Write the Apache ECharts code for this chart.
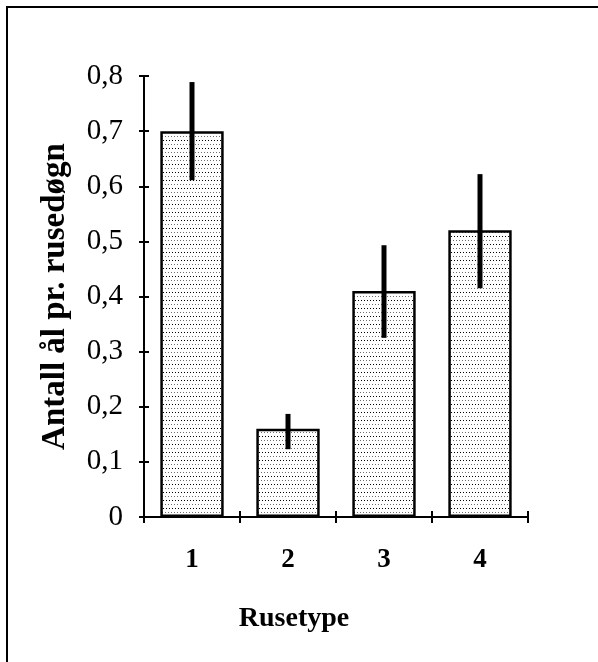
<!DOCTYPE html>
<html>
<head>
<meta charset="utf-8">
<script src="https://cdn.jsdelivr.net/npm/echarts@6/dist/echarts.min.js"></script>
<style>
  html, body { margin: 0; padding: 0; background: #fff; }
  #chart { width: 598px; height: 662px; }
</style>
</head>
<body>
<div id="chart"></div>
<script>
// Mean number of eels per trap-day for each trap type, with error bars
const categories = ['1', '2', '3', '4'];
const means = [0.70, 0.16, 0.41, 0.52];
const errLow = [0.611, 0.123, 0.325, 0.415];
const errHigh = [0.789, 0.187, 0.493, 0.622];
const yTicks = [0, 0.1, 0.2, 0.3, 0.4, 0.5, 0.6, 0.7, 0.8];

const FONT = '"Liberation Serif", "Times New Roman", serif';

// Dotted fill, like a classic stipple pattern
function stipple() {
  const c = document.createElement('canvas');
  c.width = 3; c.height = 8;
  const g = c.getContext('2d');
  g.fillStyle = '#ffffff';
  g.fillRect(0, 0, 3, 8);
  g.fillStyle = '#6e6e6e';
  g.fillRect(0, 0, 1, 1);
  g.fillStyle = '#000000';
  g.fillRect(1, 4, 1, 1);
  return c;
}

const chart = echarts.init(document.getElementById('chart'), null, { renderer: 'canvas' });

const errData = categories.map((c, i) => [i, errLow[i], errHigh[i]]);

const fmt = v => (v === 0 ? '0' : v.toFixed(1).replace('.', ','));

const option = {
  animation: false,
  backgroundColor: '#ffffff',
  grid: { left: 144, right: 70, top: 76, bottom: 145, containLabel: false },
  graphic: [{
    type: 'rect',
    shape: { x: 7, y: 7, width: 700, height: 700 },
    style: { fill: 'none', stroke: '#000', lineWidth: 2 },
    silent: true
  }],
  xAxis: [{
    type: 'category',
    data: categories,
    boundaryGap: true,
    axisLine: { lineStyle: { color: '#000', width: 2 } },
    axisTick: { show: true, length: 6, lineStyle: { color: '#000', width: 2 } },
    axisLabel: { color: '#000', fontFamily: FONT, fontSize: 27, fontWeight: 'bold', margin: 30 },
    name: 'Rusetype',
    nameLocation: 'middle',
    nameGap: 88,
    nameTextStyle: { color: '#000', fontFamily: FONT, fontSize: 28, fontWeight: 'bold', padding: [0, 84, 0, 0] }
  }, {
    type: 'category',
    data: categories,
    position: 'bottom',
    boundaryGap: true,
    axisLine: { show: false },
    axisTick: { show: true, inside: true, length: 6, lineStyle: { color: '#000', width: 2 } },
    axisLabel: { show: false }
  }],
  yAxis: [{
    type: 'value',
    min: 0,
    max: 0.8,
    interval: 0.1,
    splitLine: { show: false },
    axisLine: { show: true, lineStyle: { color: '#000', width: 2 } },
    axisTick: { show: true, length: 5, lineStyle: { color: '#000', width: 2 } },
    axisLabel: { color: '#000', fontFamily: FONT, fontSize: 29, margin: 21, formatter: fmt },
    name: 'Antall ål pr. rusedøgn',
    nameLocation: 'middle',
    nameRotate: 90,
    nameGap: 72,
    nameTextStyle: { color: '#000', fontFamily: FONT, fontSize: 33, fontWeight: 'bold' }
  }, {
    type: 'value',
    min: 0,
    max: 0.8,
    interval: 0.1,
    position: 'left',
    splitLine: { show: false },
    axisLine: { show: false },
    axisTick: { show: true, inside: true, length: 5, lineStyle: { color: '#000', width: 2 } },
    axisLabel: { show: false }
  }],
  series: [{
    type: 'bar',
    data: means,
    barWidth: '66%',
    itemStyle: {
      color: { image: stipple(), repeat: 'repeat' },
      borderColor: '#000',
      borderWidth: 2.5
    }
  }, {
    type: 'custom',
    data: errData,
    z: 10,
    renderItem: function (params, api) {
      const x = api.value(0);
      const lo = api.coord([x, api.value(1)]);
      const hi = api.coord([x, api.value(2)]);
      return {
        type: 'line',
        shape: { x1: lo[0], y1: lo[1], x2: hi[0], y2: hi[1] },
        style: { stroke: '#000', lineWidth: 5 }
      };
    }
  }]
};

chart.setOption(option);
</script>
</body>
</html>
